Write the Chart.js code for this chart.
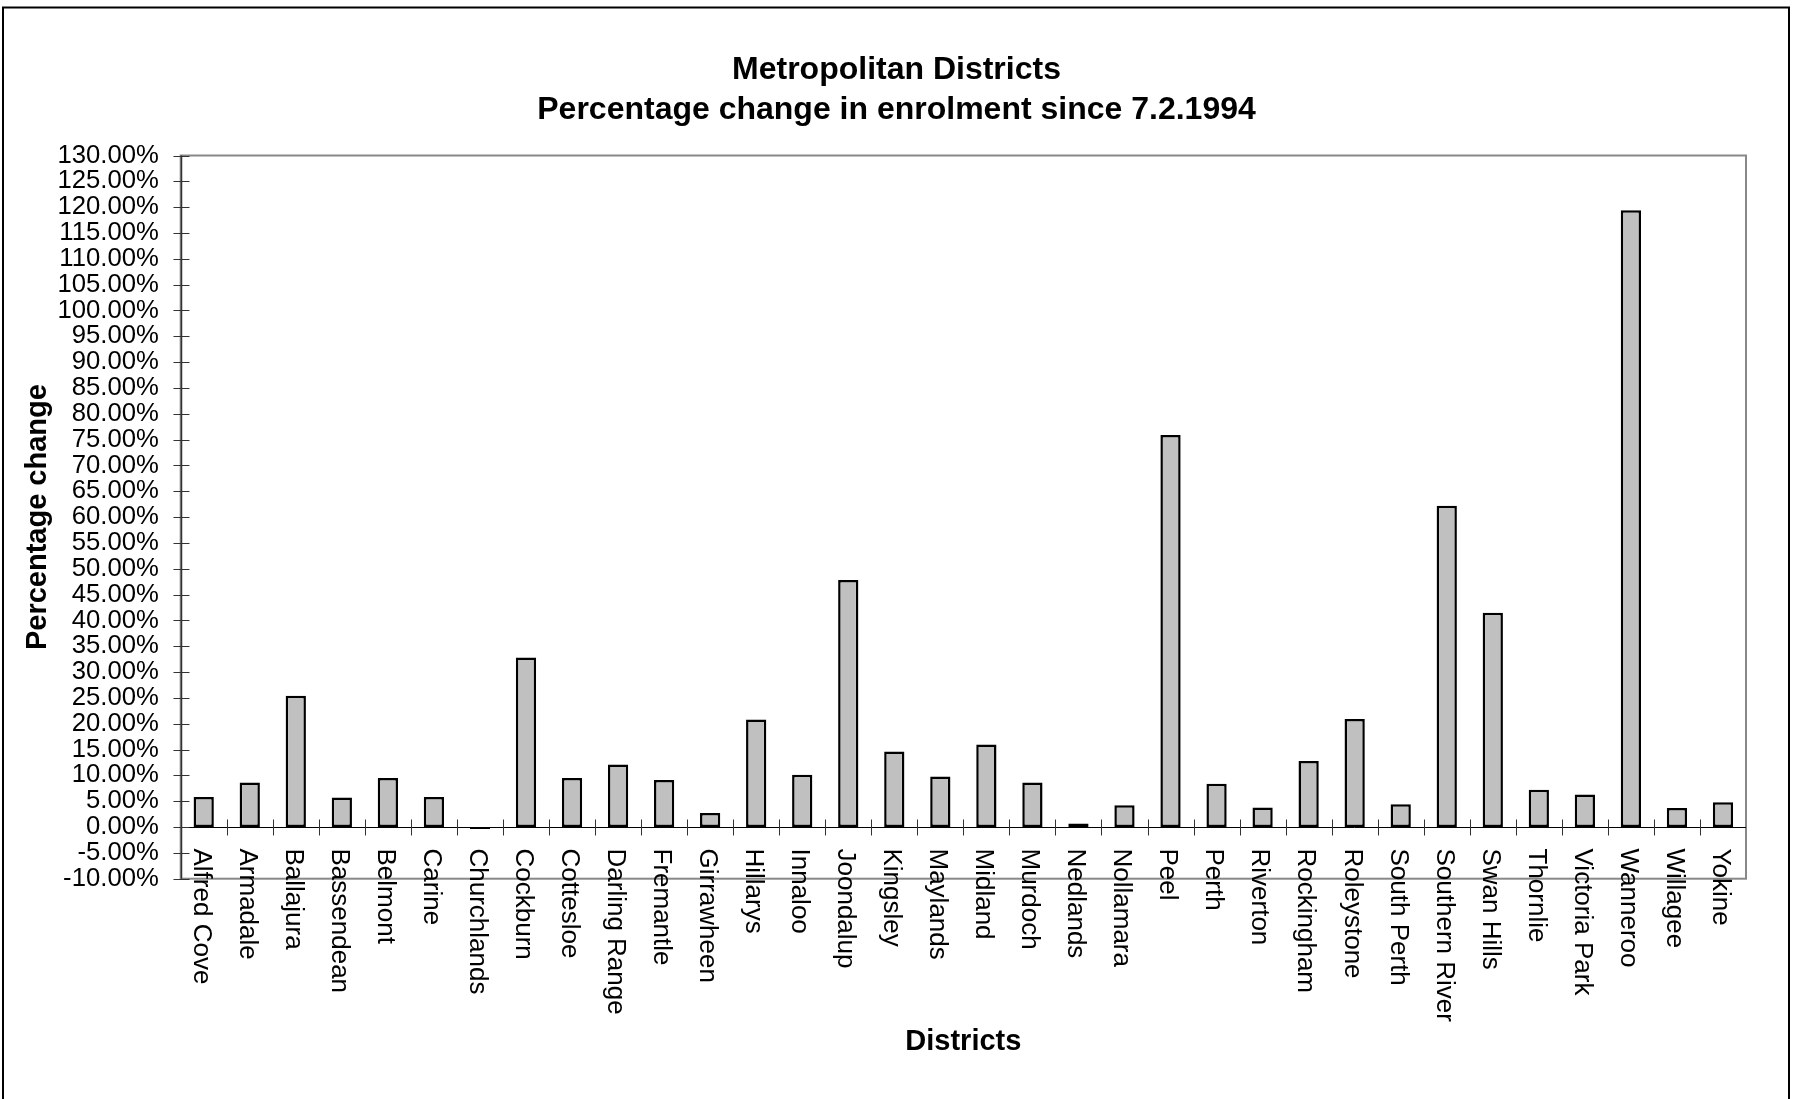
<!DOCTYPE html>
<html>
<head>
<meta charset="utf-8">
<title>Metropolitan Districts</title>
<script src="https://cdn.jsdelivr.net/npm/chart.js@4/dist/chart.umd.min.js"></script>
<style>
  html, body { margin: 0; padding: 0; background: #fff; }
  #wrap { width: 1793px; height: 1099px; }
</style>
</head>
<body>
<div id="wrap"><canvas id="enrolChart" width="1793" height="1099"></canvas></div>
<script>
// ===== data =====
const districts = [
  "Alfred Cove", "Armadale", "Ballajura", "Bassendean", "Belmont", "Carine",
  "Churchlands", "Cockburn", "Cottesloe", "Darling Range", "Fremantle",
  "Girrawheen", "Hillarys", "Innaloo", "Joondalup", "Kingsley", "Maylands",
  "Midland", "Murdoch", "Nedlands", "Nollamara", "Peel", "Perth", "Riverton",
  "Rockingham", "Roleystone", "South Perth", "Southern River", "Swan Hills",
  "Thornlie", "Victoria Park", "Wanneroo", "Willagee", "Yokine"
];

// percentage change in enrolment
const pctChange = [
  5.8, 8.6, 25.4, 5.7, 9.5, 5.8,
  -0.4, 32.8, 9.5, 12.1, 9.1,
  2.7, 20.8, 10.1, 47.8, 14.6, 9.8,
  16.0, 8.6, 0.7, 4.2, 75.9, 8.4, 3.8,
  12.8, 20.9, 4.4, 62.2, 41.5,
  7.2, 6.3, 119.4, 3.7, 4.8
];

const yMin = -10;
const yMax = 130;
const yStep = 5;

const titleLines = ["Metropolitan Districts", "Percentage change in enrolment since 7.2.1994"];
const xTitle = "Districts";
const yTitle = "Percentage change";

const FONT = "'Liberation Sans', Arial, Helvetica, sans-serif";

// ===== frame, axes, crossing ticks and rotated labels =====
const excelLook = {
  id: "excelLook",
  beforeDraw(chart) {
    const ctx = chart.ctx;
    ctx.save();
    ctx.fillStyle = "#fff";
    ctx.fillRect(0, 0, chart.width, chart.height);
    // outer border of the chart object
    ctx.strokeStyle = "#000";
    ctx.lineWidth = 2;
    ctx.beginPath();
    ctx.moveTo(3, chart.height + 5);
    ctx.lineTo(3, 7.5);
    ctx.lineTo(1789, 7.5);
    ctx.lineTo(1789, chart.height + 5);
    ctx.stroke();
    ctx.restore();
  },
  beforeDatasetsDraw(chart) {
    const { ctx, chartArea: a } = chart;
    ctx.save();
    ctx.strokeStyle = "#888";
    ctx.lineWidth = 2;
    ctx.strokeRect(a.left, a.top, a.right - a.left, a.bottom - a.top);
    ctx.restore();
  },
  afterDatasetsDraw(chart) {
    const { ctx, chartArea: a } = chart;
    const xs = chart.scales.x;
    const ys = chart.scales.y;
    const zeroY = Math.round(ys.getPixelForValue(0)) + 0.5;
    const axisX = Math.round(a.left) + 0.5;

    ctx.save();
    // value axis
    ctx.strokeStyle = "#333";
    ctx.lineWidth = 1.5;
    ctx.beginPath();
    ctx.moveTo(axisX, a.top);
    ctx.lineTo(axisX, a.bottom);
    ctx.stroke();

    // category axis at 0
    ctx.strokeStyle = "#000";
    ctx.lineWidth = 1;
    ctx.beginPath();
    ctx.moveTo(a.left, zeroY);
    ctx.lineTo(a.right, zeroY);
    ctx.stroke();

    // crossing tick marks
    ctx.strokeStyle = "#333";
    ctx.beginPath();
    ys.ticks.forEach((t) => {
      const py = Math.round(ys.getPixelForValue(t.value)) + 0.5;
      ctx.moveTo(axisX - 8, py);
      ctx.lineTo(axisX + 8, py);
    });
    for (let i = 1; i < districts.length; i++) {
      const px = Math.round((xs.getPixelForTick(i - 1) + xs.getPixelForTick(i)) / 2) + 0.5;
      ctx.moveTo(px, zeroY - 8);
      ctx.lineTo(px, zeroY + 8);
    }
    ctx.stroke();

    // district names, rotated clockwise, hanging from the 0 line
    ctx.fillStyle = "#000";
    ctx.font = "26px " + FONT;
    ctx.textAlign = "left";
    ctx.textBaseline = "middle";
    districts.forEach((name, i) => {
      const px = xs.getPixelForTick(i) - 3;
      ctx.save();
      ctx.translate(px, zeroY + 21);
      ctx.rotate(Math.PI / 2);
      ctx.fillText(name, 0, 0);
      ctx.restore();
    });
    ctx.restore();
  }
};

// ===== chart =====
const ctx = document.getElementById("enrolChart");

new Chart(ctx, {
  type: "bar",
  data: {
    labels: districts,
    datasets: [
      {
        label: "Percentage change",
        data: pctChange,
        backgroundColor: "#c0c0c0",
        borderColor: "#000",
        borderWidth: 2.5,
        borderSkipped: false,
        barPercentage: 0.44,
        categoryPercentage: 1,
      },
    ],
  },
  options: {
    responsive: false,
    animation: false,
    devicePixelRatio: 1,
    layout: {
      padding: { top: 0, left: 47, right: 47, bottom: 220.3 },
    },
    plugins: {
      legend: { display: false },
      tooltip: { enabled: false },
      title: {
        display: true,
        text: titleLines,
        color: "#000",
        font: { family: FONT, size: 32, weight: "bold", lineHeight: 1.25 },
        padding: { top: 50.5, bottom: 25 },
      },
    },
    scales: {
      x: {
        position: { y: 0 },
        offset: true,
        grid: { display: false, drawTicks: false },
        border: { display: false },
        ticks: { display: false },
        title: {
          display: true,
          text: xTitle,
          color: "#000",
          font: { family: FONT, size: 29, weight: "bold", lineHeight: 1.2 },
          padding: { top: 197.2, bottom: 0 },
        },
      },
      y: {
        min: yMin,
        max: yMax,
        grid: { display: false, drawTicks: false },
        border: { display: false },
        afterFit(scale) {
          scale.width = 133.7;
        },
        ticks: {
          stepSize: yStep,
          autoSkip: false,
          maxTicksLimit: 100,
          padding: 21.9,
          color: "#000",
          font: { family: FONT, size: 25.7 },
          callback: (v) => Number(v).toFixed(2) + "%",
        },
        title: {
          display: true,
          text: yTitle,
          color: "#000",
          font: { family: FONT, size: 29, weight: "bold", lineHeight: 1.2 },
          padding: { top: -26.6, bottom: 0 },
        },
      },
    },
  },
  plugins: [excelLook],
});
</script>
</body>
</html>
